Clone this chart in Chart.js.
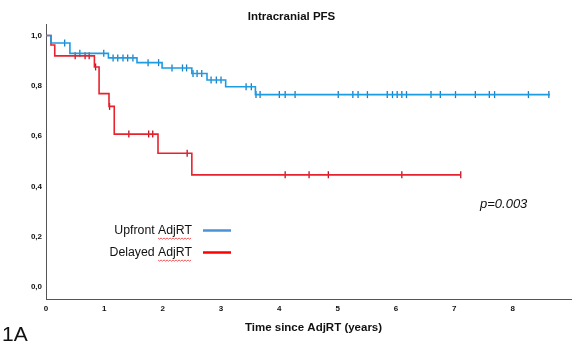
<!DOCTYPE html>
<html><head><meta charset="utf-8">
<script src="https://cdn.jsdelivr.net/npm/chart.js@4/dist/chart.umd.min.js"></script>
<style>html,body{margin:0;padding:0;background:#fff}#wrap{width:581px;height:347px}</style>
</head><body><div id="wrap"><canvas id="c" width="581" height="347"></canvas></div>
<script>
const xTicks = [0, 1, 2, 3, 4, 5, 6, 7, 8];
const yTicks = [0, 0.2, 0.4, 0.6, 0.8, 1.0];

const upfrontTimes = [0, 0.085, 0.41, 1.07, 1.56, 1.99, 2.5, 2.76, 3.08, 3.59];
const upfrontSurv  = [1.0, 0.970, 0.929, 0.911, 0.892, 0.871, 0.849, 0.823, 0.796, 0.765];
const upfrontEnd = 8.64;
const upfrontCensored = [0.32, 0.58, 0.99, 1.15, 1.23, 1.32, 1.40, 1.49, 1.75, 1.93, 2.16, 2.34, 2.41,
  2.52, 2.59, 2.67, 2.83, 2.92, 3.0, 3.43, 3.52, 3.60, 3.67, 4.0, 4.10, 4.27, 5.01, 5.26, 5.35, 5.51,
  5.85, 5.94, 6.02, 6.10, 6.18, 6.60, 6.76, 7.02, 7.36, 7.60, 7.69, 8.27, 8.62];

const delayedTimes = [0, 0.085, 0.15, 0.83, 0.91, 1.08, 1.17, 1.92, 2.50];
const delayedSurv  = [1.0, 0.962, 0.919, 0.875, 0.769, 0.718, 0.608, 0.532, 0.446];
const delayedEnd = 7.11;
const delayedCensored = [0.50, 0.67, 0.74, 0.85, 1.09, 1.42, 1.76, 1.83, 2.42, 4.10, 4.51, 4.84, 6.10, 7.11];

const seriesNames = ['Upfront AdjRT', 'Delayed AdjRT'];
const pValueText = 'p=0.003';
const titleText = 'Intracranial PFS';
const xTitleText = 'Time since AdjRT (years)';
const panelLabel = '1A';

function survAt(times, surv, t) {
  let s = surv[0];
  for (let i = 0; i < times.length; i++) { if (times[i] <= t) s = surv[i]; }
  return s;
}
function curve(times, surv, end) {
  const pts = times.map((t, i) => ({x: t, y: surv[i]}));
  pts.push({x: end, y: surv[surv.length - 1]});
  return pts;
}
function marks(times, surv, cens) {
  return cens.map(t => ({x: t, y: survAt(times, surv, t)}));
}

const BLUE = '#1c9ce3', BLUE_DARK = '#1a7fc4', RED = '#e8232d', RED_DARK = '#b81424';

const textPlugin = {
  id: 'texts',
  afterDraw(chart) {
    const ctx = chart.ctx;
    ctx.save();
    ctx.fillStyle = '#111';
    ctx.textBaseline = 'middle';
    ctx.textAlign = 'center';
    ctx.font = 'bold 11.5px "Liberation Sans", Arial, sans-serif';
    ctx.fillText(titleText, 291.5, 17);
    ctx.fillText(xTitleText, 313.5, 327.5);

    // legend
    ctx.font = '12.3px "Liberation Sans", Arial, sans-serif';
    ctx.textAlign = 'right';
    const rows = [{name: seriesNames[0], y: 230.5, col: '#4a93d9'}, {name: seriesNames[1], y: 252.5, col: '#ff0000'}];
    rows.forEach(r => {
      ctx.fillStyle = '#111';
      ctx.fillText(r.name, 192, r.y);
      ctx.strokeStyle = r.col; ctx.lineWidth = 2.5;
      ctx.beginPath(); ctx.moveTo(203, r.y); ctx.lineTo(231, r.y); ctx.stroke();
      // wavy spell-check underline under last word
      const word = r.name.split(' ').pop();
      const w = ctx.measureText(word).width;
      const x0 = 192 - w, yU = r.y + 7.5;
      ctx.strokeStyle = '#e33'; ctx.lineWidth = 0.8;
      ctx.beginPath(); ctx.moveTo(x0, yU);
      let k = 0;
      for (let x = x0 + 1.5; x <= 192.5; x += 1.5, k++) ctx.lineTo(x, yU + (k % 2 === 0 ? 1.2 : 0));
      ctx.stroke();
    });

    ctx.fillStyle = '#111';
    ctx.textAlign = 'left';
    ctx.font = 'italic 13px "Liberation Sans", Arial, sans-serif';
    ctx.fillText(pValueText, 480, 204);

    ctx.font = '21px "Liberation Sans", Arial, sans-serif';
    ctx.fillText(panelLabel, 2, 335);
    ctx.restore();
  }
};

new Chart(document.getElementById('c'), {
  type: 'line',
  data: {
    datasets: [
      {label: seriesNames[0], data: curve(upfrontTimes, upfrontSurv, upfrontEnd), stepped: true,
       borderColor: BLUE, borderWidth: 1.6, pointRadius: 0, fill: false},
      {label: seriesNames[1], data: curve(delayedTimes, delayedSurv, delayedEnd), stepped: true,
       borderColor: RED, borderWidth: 1.6, pointRadius: 0, fill: false},
      {label: 'c1', data: marks(upfrontTimes, upfrontSurv, upfrontCensored), showLine: false,
       pointStyle: 'line', rotation: 90, pointRadius: 3.5, borderColor: BLUE_DARK, pointBorderWidth: 1.3},
      {label: 'c2', data: marks(delayedTimes, delayedSurv, delayedCensored), showLine: false,
       pointStyle: 'line', rotation: 90, pointRadius: 3.5, borderColor: RED_DARK, pointBorderWidth: 1.3}
    ]
  },
  options: {
    responsive: false, animation: false, devicePixelRatio: 1,
    parsing: false,
    layout: {padding: {top: 24, right: 10, left: 0, bottom: 0}},
    plugins: {legend: {display: false}, tooltip: {enabled: false}, title: {display: false}},
    elements: {point: {hoverRadius: 3.5}},
    scales: {
      x: {type: 'linear', min: 0, max: 9,
        afterBuildTicks: s => { s.ticks = xTicks.map(v => ({value: v})); },
        afterFit: s => { s.height = 48; },
        grid: {display: false, drawTicks: false},
        border: {display: true, color: '#555', width: 1},
        ticks: {padding: 5, color: '#111', font: {family: '"Liberation Sans", Arial, sans-serif', size: 8, weight: 'bold'},
          callback: v => String(v), maxRotation: 0, autoSkip: false}},
      y: {type: 'linear', min: -0.0477, max: 1.0457,
        afterBuildTicks: s => { s.ticks = yTicks.map(v => ({value: v})); },
        afterFit: s => { s.width = 46; },
        grid: {display: false, drawTicks: false},
        border: {display: true, color: '#555', width: 1},
        ticks: {padding: 4, color: '#111', font: {family: '"Liberation Sans", Arial, sans-serif', size: 8, weight: 'bold'},
          callback: v => v.toFixed(1).replace('.', ','), autoSkip: false}}
    }
  },
  plugins: [textPlugin]
});
</script>
</body></html>
